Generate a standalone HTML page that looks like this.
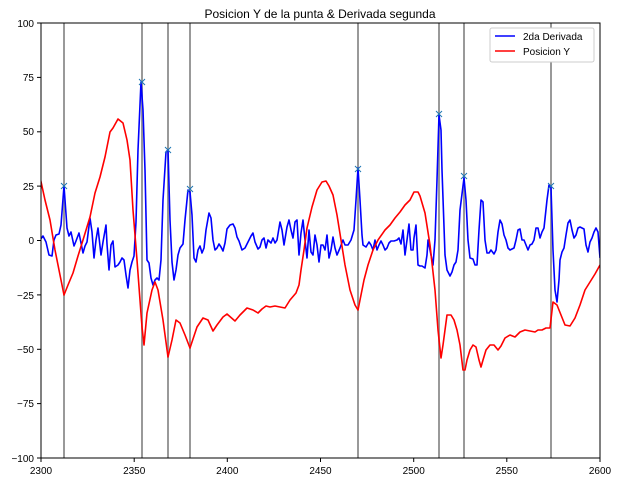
<!DOCTYPE html><html><head><meta charset="utf-8"><style>body{margin:0;background:#fff}svg{display:block;font-family:"Liberation Sans",sans-serif}</style></head><body>
<svg width="619" height="482" viewBox="0 0 619 482">
<rect width="619" height="482" fill="#fff"/>
<text x="320" y="18" text-anchor="middle" font-size="12">Posicion Y de la punta &amp; Derivada segunda</text>
<g stroke="#808080" stroke-width="2" opacity="0.8">
<line x1="64" y1="23" x2="64" y2="458"/><line x1="142" y1="23" x2="142" y2="458"/><line x1="168" y1="23" x2="168" y2="458"/><line x1="190" y1="23" x2="190" y2="458"/><line x1="358" y1="23" x2="358" y2="458"/><line x1="439" y1="23" x2="439" y2="458"/><line x1="464" y1="23" x2="464" y2="458"/><line x1="551" y1="23" x2="551" y2="458"/>
</g>
<svg x="41" y="23" width="559" height="435" viewBox="41 23 559 435" overflow="hidden">
<polyline fill="none" stroke="#0000ff" stroke-width="1.6" stroke-linejoin="round" points="40,240 43,236 46,242 49,255 52,256 54,240 56,235 59,234 61,225 64,186 67,228 69,236 71,232 74,246 76,241 79,233 81,243 83,253 85,246 87,242 90,218 92,232 94,258 96,240 98,228 101,255 103,242 106,225 107,244 109,270 111,245 113,241 115,267 118,265 120,262 122,258 124,260 126,275 128,288 130,270 132,262 134,256 136,222 138,150 141,82 143,110 145,170 147,260 149,263 151,278 153,285 155,280 157,278 159,280 161,260 163,200 166,152 168,150 170,220 172,262 174,280 176,270 178,255 180,248 183,244 185,220 188,190 190,192 192,215 194,258 196,262 198,250 200,246 202,253 204,248 206,230 209,213 211,218 213,240 215,250 217,248 219,244 221,247 223,251 225,243 227,229 230,225 233,224 235,228 237,237 239,241 242,250 245,248 248,242 251,236 253,233 255,242 258,249 260,247 262,240 264,238 266,248 268,240 271,243 273,238 275,243 277,240 280,222 282,230 284,245 287,227 289,220 291,230 293,238 295,222 297,220 299,255 301,233 303,220 305,240 307,258 309,230 311,252 313,255 315,235 317,245 319,262 321,245 323,245 325,250 327,235 329,258 331,250 333,237 335,248 337,255 340,248 343,240 345,245 348,245 351,240 354,230 356,200 358,168 360,200 362,235 363,245 366,247 369,242 371,245 373,250 375,240 377,250 379,245 381,241 383,245 385,250 387,248 389,243 391,241 394,241 397,240 399,238 401,244 403,230 405,255 407,240 409,224 411,250 413,250 414,238 416,225 418,265 420,266 422,266 425,268 427,255 428,240 430,250 433,265 435,240 437,180 439,115 441,130 442,170 445,255 447,270 450,276 452,272 454,265 456,262 458,250 460,210 464,178 466,200 468,240 470,258 473,259 475,265 477,265 479,230 481,200 483,202 485,240 487,253 489,253 491,250 494,254 496,250 498,232 500,220 502,224 504,235 506,240 508,248 510,250 512,249 514,248 516,240 518,230 520,229 522,240 524,240 526,245 528,250 530,245 532,244 534,240 536,228 538,228 540,238 542,232 544,228 547,200 549,185 551,188 553,250 555,290 557,302 559,280 560,260 562,252 564,248 566,235 568,223 570,220 572,230 574,238 576,235 578,228 580,227 582,228 584,229 586,245 588,252 590,242 592,238 594,232 596,228 598,232 600,258"/>
<polyline fill="none" stroke="#ff0000" stroke-width="1.6" stroke-linejoin="round" points="40,177 45,200 50,220 55,250 60,275 64,295 68,285 73,273 78,256 83,240 90,217 95,193 100,177 105,157 110,132 113,128 118,119 123,123 127,140 130,160 133,210 137,260 142,327 144,345 147,313 152,290 155,282 158,290 163,320 168,357 172,340 176,320 180,323 185,335 190,348 197,327 203,318 208,320 213,331 217,325 223,317 227,314 235,321 240,315 247,308 253,310 258,313 262,309 266,306 270,307 275,306 280,307 285,308 290,300 296,293 299,285 301,270 304,250 307,228 312,207 317,190 322,182 326,181 329,186 333,195 337,215 341,240 345,265 350,290 355,305 358,310 360,300 364,280 368,265 373,250 378,240 385,230 390,225 395,218 400,212 405,205 410,200 414,192 418,192 420,196 425,213 430,245 435,290 438,330 441,358 443,345 447,315 451,315 454,320 457,330 460,345 463,370 465,370 467,360 470,350 473,345 476,347 479,360 481,367 483,360 486,350 490,345 494,345 498,350 501,346 505,338 510,335 515,337 520,332 525,330 530,331 535,332 538,330 542,330 546,328 550,328 553,302 557,305 561,315 565,325 570,326 575,318 580,305 585,290 590,282 595,274 600,265"/>
</svg>
<g stroke="#1f77b4" stroke-width="1" fill="none">
<path d="M61,183l6,6m0,-6l-6,6M139,79l6,6m0,-6l-6,6M165,147l6,6m0,-6l-6,6M187,186l6,6m0,-6l-6,6M355,166l6,6m0,-6l-6,6M436,111l6,6m0,-6l-6,6M461,173l6,6m0,-6l-6,6M548,183l6,6m0,-6l-6,6"/>
</g>
<rect x="41" y="23" width="559" height="435" fill="none" stroke="#000" stroke-width="1"/>
<g stroke="#000" stroke-width="1">
<line x1="41" y1="458" x2="41" y2="462"/><line x1="134.2" y1="458" x2="134.2" y2="462"/><line x1="227.3" y1="458" x2="227.3" y2="462"/><line x1="320.5" y1="458" x2="320.5" y2="462"/><line x1="413.7" y1="458" x2="413.7" y2="462"/><line x1="506.8" y1="458" x2="506.8" y2="462"/><line x1="600" y1="458" x2="600" y2="462"/>
<line x1="37" y1="23" x2="41" y2="23"/><line x1="37" y1="77.4" x2="41" y2="77.4"/><line x1="37" y1="131.8" x2="41" y2="131.8"/><line x1="37" y1="186.1" x2="41" y2="186.1"/><line x1="37" y1="240.5" x2="41" y2="240.5"/><line x1="37" y1="294.9" x2="41" y2="294.9"/><line x1="37" y1="349.3" x2="41" y2="349.3"/><line x1="37" y1="403.6" x2="41" y2="403.6"/><line x1="37" y1="458" x2="41" y2="458"/>
</g>
<g font-size="10" text-anchor="middle">
<text x="41" y="474">2300</text><text x="134.2" y="474">2350</text><text x="227.3" y="474">2400</text><text x="320.5" y="474">2450</text><text x="413.7" y="474">2500</text><text x="506.8" y="474">2550</text><text x="600" y="474">2600</text>
</g>
<g font-size="10" text-anchor="end">
<text x="34" y="27">100</text><text x="34" y="81">75</text><text x="34" y="135">50</text><text x="34" y="190">25</text><text x="34" y="244">0</text><text x="34" y="299">−25</text><text x="34" y="353">−50</text><text x="34" y="407">−75</text><text x="34" y="462">−100</text>
</g>
<rect x="490" y="28" width="104" height="34" rx="2" fill="#fff" stroke="#ccc"/>
<line x1="495" y1="36" x2="515" y2="36" stroke="#0000ff" stroke-width="1.6"/>
<line x1="495" y1="51" x2="515" y2="51" stroke="#ff0000" stroke-width="1.6"/>
<text x="523" y="40" font-size="10">2da Derivada</text>
<text x="523" y="55" font-size="10">Posicion Y</text>
</svg>
</body></html>
